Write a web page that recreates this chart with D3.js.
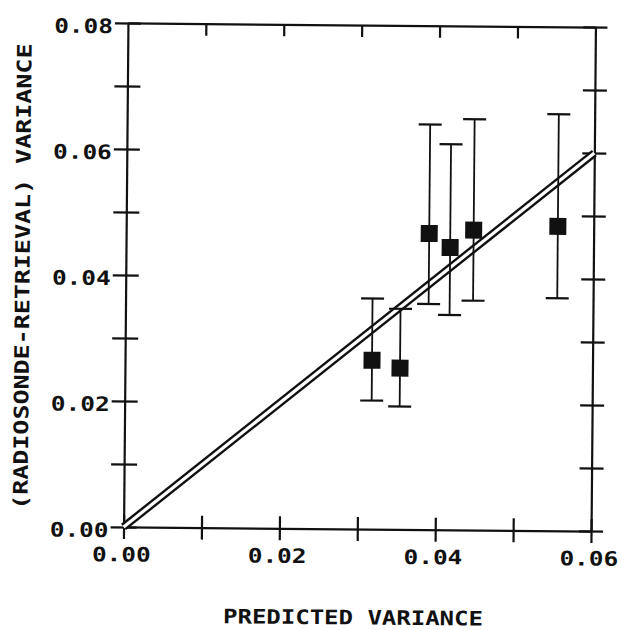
<!DOCTYPE html>
<html>
<head>
<meta charset="utf-8">
<script src="https://cdn.jsdelivr.net/npm/d3@7"></script>
<style>
  html, body { margin: 0; padding: 0; background: #fff; }
  svg { display: block; }
</style>
</head>
<body>
<svg id="chart" width="621" height="630"></svg>
<script>
// Predicted vs. observed (radiosonde - retrieval) variance, with error bars
const predicted = [0.0317, 0.0353, 0.0389, 0.0416, 0.0446, 0.0554];
const observed  = [0.0268, 0.0256, 0.0470, 0.0448, 0.0476, 0.0483];
const errHigh   = [0.0366, 0.0350, 0.0643, 0.0612, 0.0652, 0.0661];
const errLow    = [0.0204, 0.0195, 0.0358, 0.0341, 0.0364, 0.0369];

// 1:1 reference line
const identityLine = [[0, 0], [0.06, 0.06]];

const xTickValues = [0, 0.01, 0.02, 0.03, 0.04, 0.05, 0.06];
const xTickLabels = ["0.00", "", "0.02", "", "0.04", "", "0.06"];
const yTickValues = [0, 0.01, 0.02, 0.03, 0.04, 0.05, 0.06, 0.07, 0.08];
const yTickLabels = ["0.00", "", "0.02", "", "0.04", "", "0.06", "", "0.08"];

const xTitle = "PREDICTED VARIANCE";
const yTitle = "(RADIOSONDE-RETRIEVAL) VARIANCE";

const W = 621, H = 630;
const L = 125.75, R = 593.25, T = 25, B = 529;
const ink = "#111";
const TK = 12;
const FONT = "'DejaVu Sans Mono', 'Liberation Mono', monospace";

const svg = d3.select("#chart");
svg.append("rect").attr("width", W).attr("height", H).attr("fill", "#fff");

// the whole sheet sits very slightly turned
const g = svg.append("g")
  .attr("transform", `rotate(0.5 ${(L + R) / 2} ${(T + B) / 2})`);

const x = d3.scaleLinear().domain([0, 0.06]).range([L, R]);
const y = d3.scaleLinear().domain([0, 0.08]).range([B, T]);

// ---- frame and ticks ----
const gb = g.append("g").attr("transform", `translate(0,${B})`)
  .call(d3.axisBottom(x).tickValues(xTickValues).tickSize(TK).tickSizeOuter(0).tickFormat(""));
gb.selectAll(".tick line").attr("y1", -TK);

const gt = g.append("g").attr("transform", `translate(0,${T})`)
  .call(d3.axisBottom(x).tickValues(xTickValues.slice(1, -1)).tickSize(TK).tickSizeOuter(0).tickFormat(""));

const gl = g.append("g").attr("transform", `translate(${L},0)`)
  .call(d3.axisLeft(y).tickValues(yTickValues).tickSize(TK + 1).tickSizeOuter(0).tickFormat(""));
gl.selectAll(".tick line").attr("x1", TK + 1);

const gr = g.append("g").attr("transform", `translate(${R},0)`)
  .call(d3.axisRight(y).tickValues(yTickValues).tickSize(TK).tickSizeOuter(0).tickFormat(""));
gr.selectAll(".tick line").attr("x1", -TK);

g.selectAll(".domain, .tick line").attr("stroke", ink).attr("stroke-width", 2.2);
g.selectAll(".tick text").remove();

// ---- tick labels ----
const lab = g.append("g").attr("font-family", FONT).attr("font-size", 20)
  .attr("font-weight", "bold").attr("fill", ink);
xTickValues.forEach((v, i) => {
  if (!xTickLabels[i]) return;
  lab.append("text")
    .attr("text-anchor", "middle")
    .attr("transform", `translate(${x(v) - 2},${B + 34.5}) scale(1.22,1)`)
    .text(xTickLabels[i]);
});
yTickValues.forEach((v, i) => {
  if (!yTickLabels[i]) return;
  lab.append("text")
    .attr("text-anchor", "end")
    .attr("transform", `translate(${L - 15},${y(v) + 10.3}) scale(1.22,1)`)
    .text(yTickLabels[i]);
});

// ---- axis titles ----
lab.append("text")
  .attr("text-anchor", "middle")
  .attr("transform", `translate(${(L + R) / 2 - 3.5},${B + 95.5}) scale(1.2,1)`)
  .text(xTitle);
lab.append("text")
  .attr("text-anchor", "middle")
  .attr("transform", `translate(29.5,279.6) rotate(-90) scale(1.25,1)`)
  .text(yTitle);

// ---- double 1:1 line ----
const line = d3.line().x(d => x(d[0])).y(d => y(d[1]));
g.append("path").attr("d", line(identityLine))
  .attr("fill", "none").attr("stroke", ink).attr("stroke-width", 8);
g.append("path").attr("d", line(identityLine))
  .attr("fill", "none").attr("stroke", "#fff").attr("stroke-width", 3.2);

// ---- error bars and points ----
const pts = g.append("g");
predicted.forEach((p, i) => {
  const cx = x(p);
  pts.append("line")
    .attr("x1", cx).attr("x2", cx)
    .attr("y1", y(errLow[i])).attr("y2", y(errHigh[i]))
    .attr("stroke", ink).attr("stroke-width", 1.8);
  [errLow[i], errHigh[i]].forEach(e => {
    pts.append("line")
      .attr("x1", cx - 11.5).attr("x2", cx + 11.5)
      .attr("y1", y(e)).attr("y2", y(e))
      .attr("stroke", ink).attr("stroke-width", 2.2);
  });
  pts.append("rect")
    .attr("x", cx - 8.5).attr("y", y(observed[i]) - 8.5)
    .attr("width", 17).attr("height", 17)
    .attr("fill", ink);
});
</script>
</body>
</html>
